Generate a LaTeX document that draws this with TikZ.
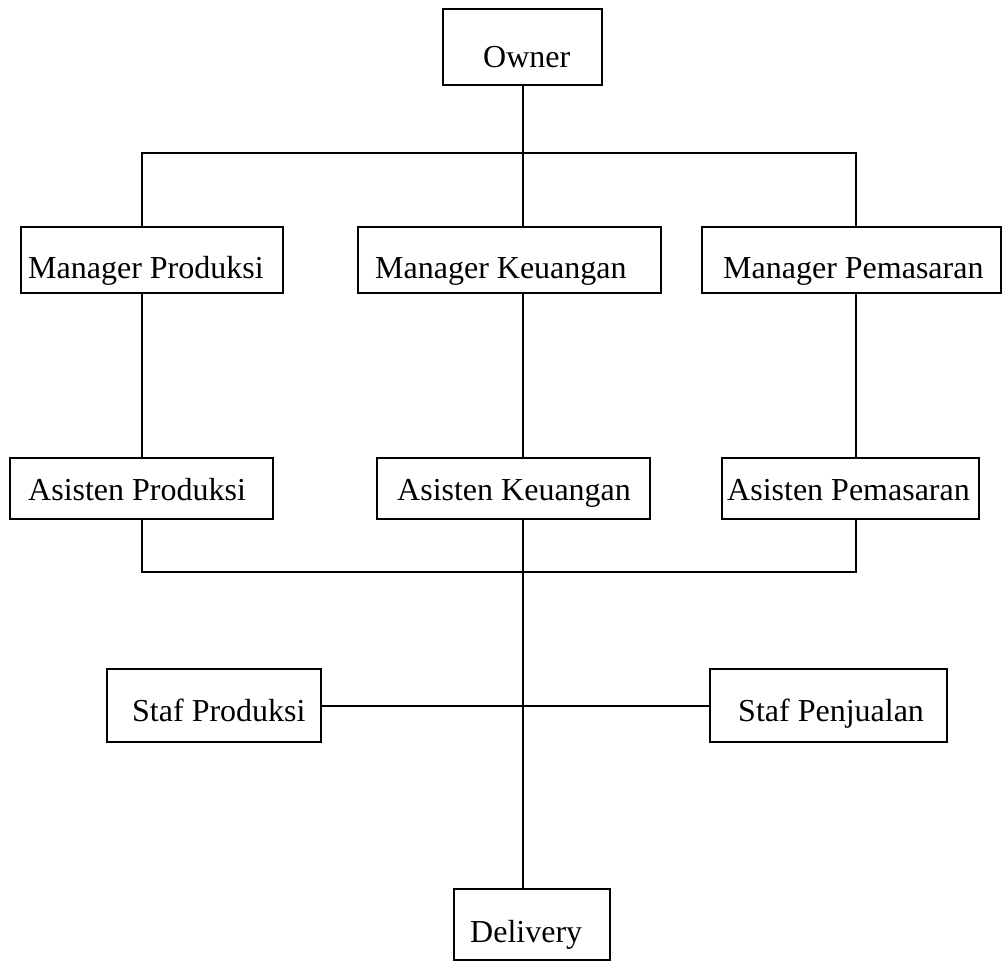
\documentclass[tikz,border=0pt]{standalone}
\usepackage{fontspec}
\setmainfont{Liberation Serif}
\begin{document}
\begin{tikzpicture}[x=1pt,y=-1pt,
  box/.style={draw,line width=1.4pt,inner sep=0pt,rectangle},
  txt/.style={anchor=base west,inner sep=0pt,font=\fontsize{32}{38}\selectfont},
  conn/.style={line width=1.7pt}]
\useasboundingbox (0,0) rectangle (1003,962);
% boxes
\node[box,minimum width=159pt,minimum height=76pt] (owner) at (522.5,47) {};
\node[box,minimum width=262pt,minimum height=66pt] (mp) at (152,260) {};
\node[box,minimum width=303pt,minimum height=66pt] (mk) at (509.5,260) {};
\node[box,minimum width=299pt,minimum height=66pt] (mpm) at (851.5,260) {};
\node[box,minimum width=263pt,minimum height=61pt] (ap) at (141.5,488.5) {};
\node[box,minimum width=273pt,minimum height=61pt] (ak) at (513.5,488.5) {};
\node[box,minimum width=257pt,minimum height=61pt] (apm) at (850.5,488.5) {};
\node[box,minimum width=214pt,minimum height=73pt] (sp) at (214,705.5) {};
\node[box,minimum width=237pt,minimum height=73pt] (spj) at (828.5,705.5) {};
\node[box,minimum width=156pt,minimum height=71pt] (del) at (532,924.5) {};
% texts
\node[txt] (towner) at (483,67) {Owner};
\node[txt] (tmp) at (28,278) {Manager Produksi};
\node[txt] (tmk) at (375,278) {Manager Keuangan};
\node[txt] (tmpm) at (723,278) {Manager Pemasaran};
\node[txt] (tap) at (28,500) {Asisten Produksi};
\node[txt] (tak) at (397,500) {Asisten Keuangan};
\node[txt] (tapm) at (727,500) {Asisten Pemasaran};
\node[txt] (tsp) at (132,721) {Staf Produksi};
\node[txt] (tspj) at (738,721) {Staf Penjualan};
\node[txt] (tdel) at (470,942) {Delivery};
% junction coordinates
\coordinate (xl) at (142,153);
\coordinate (xc) at (523,153);
\coordinate (xr) at (856,153);
\coordinate (bl) at (142,572);
\coordinate (bc) at (523,572);
\coordinate (br) at (856,572);
\coordinate (sy) at (0,706);
% connectors
\draw[conn] (xc |- owner.south) -- (xc |- mk.north);
\draw[conn] (xl |- mp.north) -- (xl) -- (xr) -- (xr |- mpm.north);
\draw[conn] (xl |- mp.south) -- (xl |- ap.north);
\draw[conn] (xc |- mk.south) -- (xc |- ak.north);
\draw[conn] (xr |- mpm.south) -- (xr |- apm.north);
\draw[conn] (bl |- ap.south) -- (bl) -- (br) -- (br |- apm.south);
\draw[conn] (bc |- ak.south) -- (bc |- del.north);
\draw[conn] (sp.east |- sy) -- (spj.west |- sy);
\end{tikzpicture}
\end{document}
